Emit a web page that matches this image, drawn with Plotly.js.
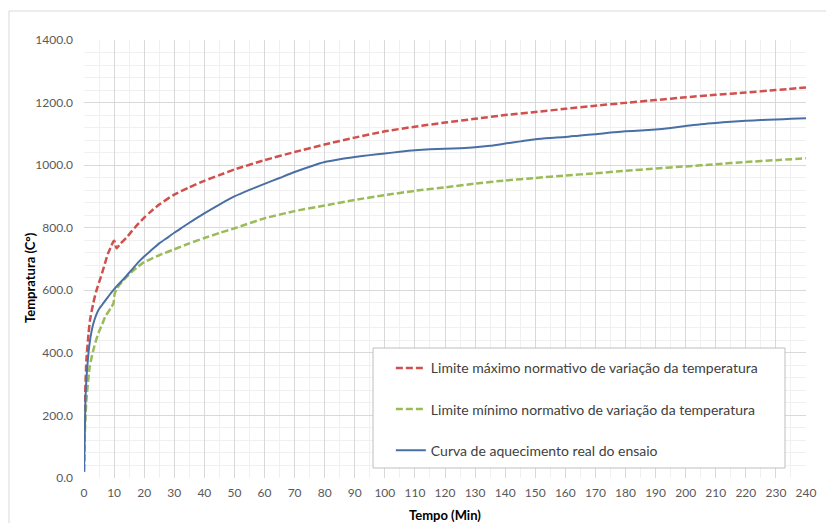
<!DOCTYPE html>
<html>
<head>
<meta charset="utf-8">
<script src="https://cdn.plot.ly/plotly-3.0.1.min.js"></script>
<style>html,body{margin:0;padding:0;background:#fff;}#chart{width:826px;height:523px;}</style>
</head>
<body>
<div id="chart"></div>
<script>
// Upper normative limit
const tUpper = [0, 0.3, 0.8, 1.5, 2, 3, 4, 5, 6, 7, 8, 9, 9.7, 10.1, 10.8, 12, 14, 16, 18, 20, 22, 25, 30, 35, 40, 45, 50, 60, 70, 80, 90, 100, 110, 120, 130, 140, 150, 160, 170, 180, 190, 200, 210, 220, 230, 240];
const vUpper = [20, 235, 377, 460, 505, 555, 595, 625, 655, 687, 718, 740, 755, 758, 734, 748, 767, 790, 812, 832, 850, 874, 906, 929, 950, 968, 986, 1016, 1042, 1066, 1088, 1108, 1123, 1136, 1148, 1160, 1170, 1180, 1190, 1199, 1208, 1217, 1225, 1232, 1240, 1248];

// Lower normative limit
const tLower = [0, 0.3, 0.8, 1.9, 3, 4, 5, 6, 7, 8, 9, 9.8, 10.2, 10.8, 12, 14, 16, 18, 20, 25, 30, 35, 40, 45, 50, 60, 70, 80, 90, 100, 110, 120, 130, 140, 150, 160, 170, 180, 190, 200, 210, 220, 230, 240];
const vLower = [20, 150, 249, 356, 405, 440, 468, 490, 515, 530, 545, 558, 590, 603, 620, 641, 660, 676, 690, 712, 731, 750, 767, 783, 798, 830, 853, 871, 889, 904, 918, 929, 941, 951, 959, 967, 974, 982, 989, 996, 1003, 1010, 1016, 1022];

// Actual test heating curve
const tReal = [0, 0.2, 0.5, 1, 1.5, 2, 2.5, 3, 4, 5, 6, 7, 8, 9, 10, 11, 12, 14, 16, 18, 20, 22, 25, 28, 30, 33, 36, 40, 45, 50, 55, 60, 65, 70, 75, 80, 85, 90, 95, 100, 105, 110, 115, 120, 125, 130, 135, 140, 145, 150, 155, 160, 165, 170, 175, 180, 185, 190, 195, 200, 205, 210, 215, 220, 225, 230, 235, 240];
const vReal = [20, 110, 255, 345, 400, 440, 468, 490, 520, 540, 553, 566, 579, 592, 603, 614, 624, 645, 667, 689, 708, 725, 750, 770, 784, 803, 822, 846, 874, 900, 921, 940, 959, 978, 995, 1010, 1019, 1026, 1032, 1037, 1043, 1048, 1051, 1052, 1054, 1057, 1062, 1069, 1076, 1083, 1087, 1090, 1095, 1099, 1104, 1108, 1111, 1114, 1119, 1125, 1131, 1135, 1139, 1142, 1144, 1146, 1148, 1150];

const names = [
  "Limite máximo normativo de variação da temperatura",
  "Limite mínimo normativo de variação da temperatura",
  "Curva de aquecimento real do ensaio"
];

const FONT = "Lato, 'Open Sans', sans-serif";

const traces = [
  {x: tUpper, y: vUpper, name: names[0], mode: "lines", legendgroup: "a",
   line: {color: "#D0504D", width: 2.5, dash: "7px,3px", shape: "spline", smoothing: 0.5}},
  {x: tLower, y: vLower, name: names[1], mode: "lines", legendgroup: "b",
   line: {color: "#9BBB59", width: 2.5, dash: "7px,3px", shape: "spline", smoothing: 0.5}},
  {x: tReal, y: vReal, name: names[2], mode: "lines", legendgroup: "c",
   line: {color: "#4A6FA5", width: 2, shape: "spline", smoothing: 0.5}}
];

const layout = {
  width: 826, height: 523,
  margin: {l: 84, r: 20, t: 40, b: 45},
  paper_bgcolor: "#ffffff", plot_bgcolor: "#ffffff",
  font: {family: FONT, size: 12, color: "#595959"},
  showlegend: true,
  legend: {
    x: 0.425, y: 0.287, xanchor: "left", yanchor: "top",
    bgcolor: "rgba(0,0,0,0)", borderwidth: 0,
    traceorder: "grouped", tracegroupgap: 20,
    font: {family: FONT, size: 14, color: "#404040"}
  },
  xaxis: {
    range: [0, 240], dtick: 10, tick0: 0,
    showgrid: true, gridcolor: "#d9d9d9", gridwidth: 1,
    zeroline: false, showline: false, ticks: "",
    ticklabelstandoff: 6,
    tickfont: {family: FONT, size: 12, color: "#595959"},
    minor: {dtick: 5, showgrid: true, gridcolor: "#f0f0f0", gridwidth: 1}
  },
  yaxis: {
    range: [0, 1400], dtick: 200, tick0: 0, tickformat: ".1f",
    showgrid: true, gridcolor: "#d9d9d9", gridwidth: 1,
    zeroline: false, showline: false, ticks: "",
    ticklabelstandoff: 10,
    tickfont: {family: FONT, size: 12, color: "#595959"},
    minor: {dtick: 40, showgrid: true, gridcolor: "#f0f0f0", gridwidth: 1}
  },
  shapes: [
    {type: "rect", xref: "paper", yref: "paper",
     x0: -0.1039, x1: 1.06, y0: -0.2, y1: 1.0662,
     line: {color: "#d9d9d9", width: 1}, fillcolor: "rgba(0,0,0,0)", layer: "below"},
    {type: "rect", xref: "paper", yref: "paper",
     x0: 0.4003, x1: 0.9709, y0: 0.0228, y1: 0.2968,
     line: {color: "#bfbfbf", width: 1}, fillcolor: "#ffffff", layer: "above"}
  ],
  annotations: [
    {text: "Tempratura (C°)", xref: "paper", yref: "paper", x: -0.0748, y: 0.459,
     xanchor: "center", yanchor: "middle", textangle: -90, showarrow: false,
     font: {family: FONT, size: 13, color: "#000000", weight: "bold"}},
    {text: "Tempo (Min)", xref: "paper", yref: "paper", x: 0.5, y: -0.0845,
     xanchor: "center", yanchor: "middle", showarrow: false,
     font: {family: FONT, size: 13, color: "#000000", weight: "bold"}}
  ]
};

Plotly.newPlot("chart", traces, layout, {displayModeBar: false, staticPlot: true});
</script>
</body>
</html>
